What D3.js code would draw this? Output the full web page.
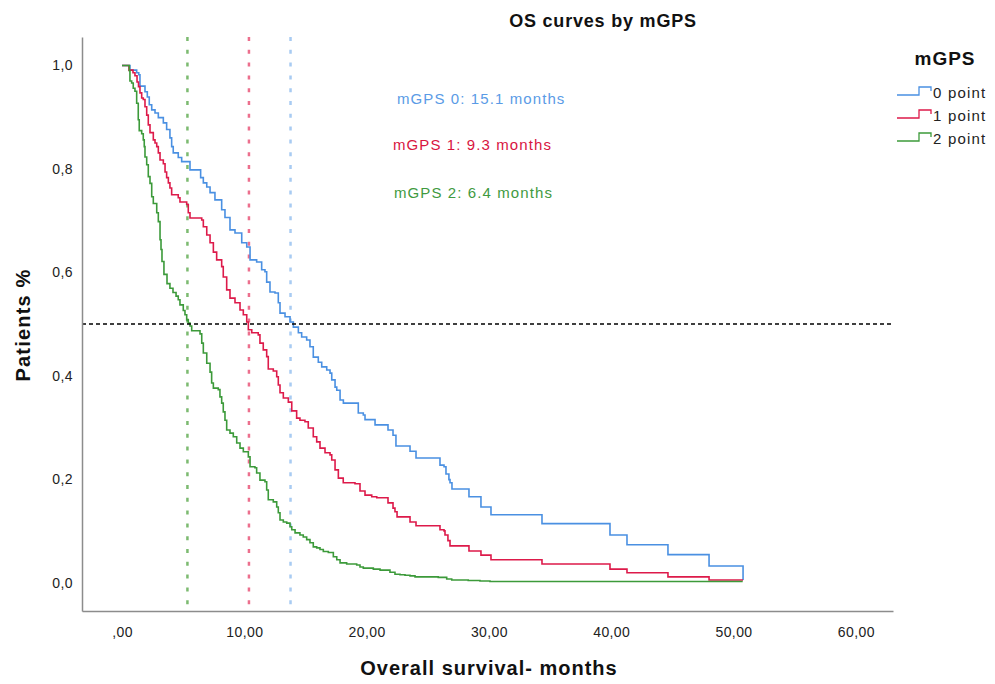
<!DOCTYPE html>
<html><head><meta charset="utf-8">
<script src="https://cdn.jsdelivr.net/npm/d3@7"></script>
<style>
body{margin:0;background:#fff;}
text{font-family:"Liberation Sans",Arial,sans-serif;}
</style>
</head><body>
<svg id="chart" width="995" height="684"></svg>
<script>
// ---------- data ----------
const groups = ["0 point", "1 point", "2 point"];
const medianLabels = ["mGPS 0: 15.1 months", "mGPS 1: 9.3 months", "mGPS 2: 6.4 months"];
const medianTimes = [13.78, 10.38, 5.35];          // where each curve crosses 0.5
const lastFollowUp = [50.78, 50.78, 50.75];
const xTicks = [0, 10, 20, 30, 40, 50, 60];
const xTickLabels = [",00", "10,00", "20,00", "30,00", "40,00", "50,00", "60,00"];
const yTicks = [0, 0.2, 0.4, 0.6, 0.8, 1.0];
const yTickLabels = ["0,0", "0,2", "0,4", "0,6", "0,8", "1,0"];

// [time (months), survival after the step]
const survival0 = [[0,1],[0.65,0.991],[1.20,0.986],[1.37,0.982],[1.47,0.960],[1.88,0.949],[2.07,0.939],[2.23,0.924],[2.43,0.914],[2.70,0.908],[2.97,0.899],[3.38,0.889],[3.65,0.876],[3.92,0.860],[4.06,0.843],[4.19,0.831],[4.60,0.822],[4.88,0.814],[5.56,0.798],[6.43,0.783],[6.65,0.773],[6.93,0.765],[7.20,0.754],[7.60,0.740],[8.15,0.721],[8.42,0.706],[8.83,0.682],[9.24,0.676],[9.79,0.657],[10.20,0.649],[10.47,0.624],[11.01,0.620],[11.42,0.605],[11.69,0.601],[11.83,0.581],[12.10,0.562],[12.51,0.560],[12.78,0.541],[12.92,0.521],[13.33,0.514],[13.74,0.504],[14.01,0.494],[14.42,0.483],[14.69,0.475],[15.10,0.469],[15.37,0.456],[15.64,0.436],[16.05,0.426],[16.33,0.417],[16.74,0.411],[17.01,0.405],[17.15,0.392],[17.42,0.378],[17.56,0.372],[17.83,0.353],[18.10,0.347],[19.32,0.328],[19.73,0.324],[19.87,0.315],[20.69,0.305],[21.75,0.295],[22.16,0.285],[22.40,0.264],[23.55,0.254],[24.04,0.241],[26.00,0.227],[26.33,0.224],[26.49,0.210],[26.73,0.199],[26.82,0.193],[26.98,0.181],[28.37,0.166],[29.35,0.146],[30.17,0.131],[34.34,0.114],[39.90,0.092],[41.29,0.073],[44.64,0.054],[48.00,0.032],[50.78,0.005]];

const survival1 = [[0,1],[0.57,0.991],[0.90,0.986],[1.06,0.980],[1.23,0.968],[1.35,0.959],[1.47,0.947],[1.61,0.937],[1.74,0.934],[1.88,0.920],[2.02,0.904],[2.15,0.885],[2.29,0.870],[2.56,0.856],[2.70,0.850],[2.84,0.843],[2.97,0.831],[3.11,0.817],[3.38,0.810],[3.52,0.794],[3.65,0.783],[3.79,0.773],[3.92,0.763],[4.06,0.750],[4.60,0.744],[4.74,0.736],[5.29,0.731],[5.42,0.715],[5.56,0.705],[6.52,0.701],[6.65,0.688],[6.93,0.672],[7.20,0.657],[7.47,0.639],[7.74,0.624],[8.15,0.611],[8.28,0.591],[8.56,0.566],[8.83,0.550],[9.24,0.541],[9.65,0.527],[9.92,0.518],[10.20,0.504],[10.33,0.489],[10.61,0.483],[11.14,0.479],[11.28,0.463],[11.55,0.450],[11.83,0.437],[11.96,0.413],[12.37,0.409],[12.65,0.398],[12.78,0.382],[12.92,0.367],[13.19,0.357],[13.60,0.349],[13.88,0.332],[14.28,0.318],[14.55,0.314],[14.96,0.311],[15.23,0.299],[15.64,0.282],[15.92,0.272],[16.19,0.260],[16.60,0.251],[17.01,0.247],[17.15,0.237],[17.42,0.218],[17.69,0.202],[18.09,0.193],[19.05,0.191],[19.46,0.177],[19.87,0.169],[20.42,0.166],[20.83,0.164],[21.75,0.154],[22.16,0.144],[22.32,0.137],[22.49,0.127],[23.55,0.117],[24.04,0.110],[26.00,0.102],[26.33,0.100],[26.41,0.092],[26.65,0.081],[26.82,0.071],[28.37,0.061],[29.35,0.053],[30.17,0.044],[34.34,0.036],[39.90,0.026],[41.29,0.019],[44.64,0.011],[48.00,0.005]];

const survival2 = [[0,1],[0.60,0.990],[0.65,0.970],[0.79,0.966],[0.92,0.956],[1.06,0.950],[1.20,0.927],[1.33,0.895],[1.41,0.874],[1.61,0.868],[1.74,0.856],[1.82,0.843],[1.88,0.823],[2.02,0.808],[2.15,0.785],[2.29,0.772],[2.43,0.746],[2.56,0.733],[2.84,0.715],[2.97,0.698],[3.11,0.663],[3.19,0.644],[3.27,0.621],[3.43,0.596],[3.68,0.578],[3.92,0.569],[4.17,0.561],[4.42,0.554],[4.60,0.547],[4.74,0.537],[5.01,0.526],[5.15,0.518],[5.29,0.508],[5.42,0.502],[5.56,0.496],[5.70,0.487],[6.38,0.481],[6.52,0.463],[6.65,0.444],[6.93,0.424],[7.20,0.407],[7.33,0.386],[7.47,0.376],[7.87,0.373],[8.01,0.359],[8.15,0.347],[8.28,0.330],[8.42,0.314],[8.56,0.295],[8.83,0.289],[9.10,0.282],[9.38,0.270],[9.65,0.260],[9.92,0.253],[10.33,0.243],[10.47,0.224],[10.87,0.222],[11.01,0.212],[11.28,0.198],[11.69,0.195],[11.83,0.179],[11.96,0.160],[12.37,0.156],[12.65,0.146],[12.78,0.135],[12.92,0.121],[13.19,0.117],[13.47,0.115],[13.74,0.108],[13.88,0.102],[14.15,0.096],[14.55,0.092],[14.82,0.088],[15.10,0.083],[15.37,0.077],[15.64,0.069],[15.92,0.067],[16.19,0.064],[16.46,0.060],[16.87,0.058],[17.28,0.050],[17.56,0.044],[17.83,0.038],[18.37,0.036],[19.19,0.034],[19.46,0.030],[19.73,0.028],[20.55,0.026],[21.10,0.024],[21.91,0.020],[22.32,0.016],[22.73,0.015],[23.14,0.014],[23.55,0.013],[23.96,0.011],[25.86,0.010],[26.55,0.007],[26.96,0.005],[28.31,0.004],[29.27,0.003],[30.09,0.002]];

const series = [survival0, survival1, survival2];
const lineColors = ["#4a90e2", "#dd1a4a", "#3c9a3a"];
const refColors = ["#a8cbf2", "#ec6f8d", "#7cba70"];
const textColors = ["#5a9be6", "#d8153f", "#3f9a3f"];

// ---------- layout ----------
const svg = d3.select("#chart");
const x = d3.scaleLinear().domain([-3.27, 63.04]).range([82, 893]);
const y = d3.scaleLinear().domain([-0.055, 1.055]).range([611, 37]);

// median reference lines
medianTimes.forEach((m, i) => {
  svg.append("line")
    .attr("x1", x(m)).attr("x2", x(m))
    .attr("y1", y.range()[1]).attr("y2", y.range()[0])
    .attr("stroke", refColors[i]).attr("stroke-width", 2.5)
    .attr("stroke-dasharray", "4 8.8");
});

// curves
const line = d3.line().x(d => x(d[0])).y(d => y(d[1])).curve(d3.curveStepAfter);
series.forEach((s, i) => {
  const pts = s.slice();
  const last = pts[pts.length - 1];
  if (last[0] < lastFollowUp[i]) pts.push([lastFollowUp[i], last[1]]);
  svg.append("path").attr("d", line(pts))
    .attr("fill", "none").attr("stroke", lineColors[i]).attr("stroke-width", 1.6);
});

// 50% line
svg.append("line")
  .attr("x1", x.range()[0]).attr("x2", x.range()[1])
  .attr("y1", y(0.5)).attr("y2", y(0.5))
  .attr("stroke", "#000").attr("stroke-width", 1.4).attr("stroke-dasharray", "4 3");

// axes
const xAxis = d3.axisBottom(x).tickValues(xTicks).tickSize(0).tickPadding(16)
  .tickFormat((d, i) => xTickLabels[i]);
const gx = svg.append("g").attr("transform", `translate(0,${y.range()[0]})`).call(xAxis);
const yAxis = d3.axisLeft(y).tickValues(yTicks).tickSize(0).tickPadding(9)
  .tickFormat((d, i) => yTickLabels[i]);
const gy = svg.append("g").attr("transform", `translate(${x.range()[0]},0)`).call(yAxis);
[gx, gy].forEach(g => {
  g.select(".domain").attr("stroke", "#8c8c8c").attr("stroke-width", 1.5);
  g.selectAll("text").attr("font-family", '"Liberation Sans",Arial,sans-serif')
    .attr("font-size", 14).attr("fill", "#222").attr("letter-spacing", 0.4);
});

// titles
svg.append("text").attr("x", 603).attr("y", 27).attr("text-anchor", "middle")
  .attr("font-size", 18).attr("font-weight", "bold").attr("letter-spacing", 0.8)
  .attr("fill", "#111").text("OS curves by mGPS");
svg.append("text").attr("x", 489).attr("y", 675).attr("text-anchor", "middle")
  .attr("font-size", 20).attr("font-weight", "bold").attr("letter-spacing", 1)
  .attr("fill", "#111").text("Overall survival- months");
svg.append("text").attr("transform", "translate(30,325) rotate(-90)").attr("text-anchor", "middle")
  .attr("font-size", 20).attr("font-weight", "bold").attr("letter-spacing", 1.2)
  .attr("fill", "#111").text("Patients %");

// median annotations
const annX = [397, 393, 394], annY = [104, 150, 198];
medianLabels.forEach((t, i) => {
  svg.append("text").attr("x", annX[i]).attr("y", annY[i])
    .attr("font-size", 15).attr("letter-spacing", 1.1)
    .attr("fill", textColors[i]).text(t);
});

// legend
const leg = svg.append("g").attr("transform", "translate(897,0)");
leg.append("text").attr("x", 48).attr("y", 65).attr("text-anchor", "middle")
  .attr("font-size", 19).attr("font-weight", "bold").attr("letter-spacing", 1)
  .attr("fill", "#111").text("mGPS");
groups.forEach((gname, i) => {
  const cy = 93 + i * 23;
  leg.append("path")
    .attr("d", `M0,${cy + 2}H22V${cy - 6}H34V${cy - 2}`)
    .attr("fill", "none").attr("stroke", lineColors[i]).attr("stroke-width", 1.3);
  leg.append("text").attr("x", 36).attr("y", cy + 5)
    .attr("font-size", 15).attr("letter-spacing", 1.2)
    .attr("fill", "#222").text(gname);
});
</script>
</body></html>
